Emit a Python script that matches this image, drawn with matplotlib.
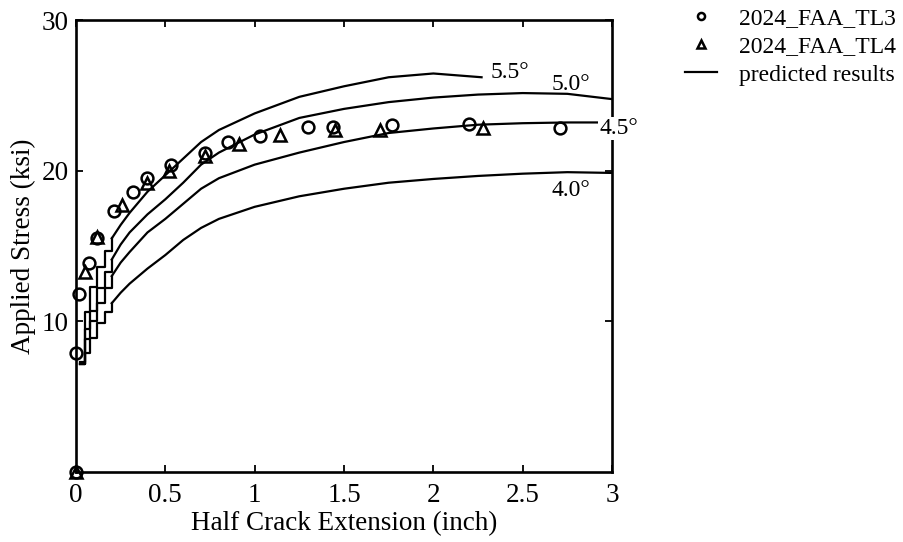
import matplotlib
matplotlib.use("Agg")
import matplotlib.pyplot as plt

plt.rcParams['font.family'] = ['Liberation Serif', 'DejaVu Serif']

# --- test data ---
tl3_x = [0.0, 0.0, 0.015, 0.07, 0.12, 0.21, 0.32, 0.40, 0.53, 0.72, 0.85, 1.03, 1.30, 1.44, 1.77, 2.20, 2.71]
tl3_y = [0.0, 7.9, 11.8, 13.85, 15.5, 17.3, 18.6, 19.5, 20.4, 21.2, 21.9, 22.3, 22.9, 22.9, 23.0, 23.1, 22.85]

tl4_x = [0.0, 0.05, 0.12, 0.26, 0.40, 0.52, 0.72, 0.91, 1.14, 1.45, 1.70, 2.28]
tl4_y = [0.0, 13.3, 15.6, 17.7, 19.2, 20.0, 21.0, 21.8, 22.4, 22.7, 22.7, 22.8]

# --- predicted curves (early part drawn as steps, later part smooth) ---
early_x = [0.02, 0.05, 0.08, 0.12, 0.16, 0.20]
late_x = [0.20, 0.25, 0.30, 0.40, 0.50, 0.60, 0.70, 0.80, 1.00, 1.25, 1.50, 1.75, 2.00, 2.25, 2.50, 2.75, 3.00]

c55_early = [7.3, 10.6, 12.3, 13.6, 14.7, 15.5]
c55_late_x = [0.20, 0.25, 0.30, 0.40, 0.50, 0.60, 0.70, 0.80, 1.00, 1.25, 1.50, 1.75, 2.00, 2.27]
c55_late = [15.5, 16.4, 17.2, 18.6, 19.7, 20.8, 21.9, 22.7, 23.8, 24.9, 25.6, 26.2, 26.45, 26.2]

c50_early = [7.2, 9.5, 10.7, 12.2, 13.3, 14.1]
c50_late = [14.1, 15.1, 15.9, 17.1, 18.1, 19.2, 20.4, 21.2, 22.4, 23.5, 24.1, 24.55, 24.85, 25.05, 25.15, 25.1, 24.75]

c45_early = [7.2, 8.8, 10.0, 11.2, 12.2, 13.0]
c45_late = [13.0, 13.9, 14.6, 15.9, 16.8, 17.8, 18.8, 19.5, 20.4, 21.2, 21.9, 22.5, 22.8, 23.05, 23.15, 23.2, 23.2]

c40_early = [7.2, 7.9, 8.9, 9.9, 10.6, 11.2]
c40_late = [11.2, 11.9, 12.5, 13.5, 14.4, 15.4, 16.2, 16.8, 17.6, 18.3, 18.8, 19.2, 19.45, 19.65, 19.8, 19.9, 19.85]

curve_labels = ['5.5°', '5.0°', '4.5°', '4.0°']
label_x = [2.32, 2.66, 2.93, 2.66]
label_y = [26.5, 25.75, 22.8, 18.7]

xticks = [0, 0.5, 1, 1.5, 2, 2.5, 3]
xtick_labels = ['0', '0.5', '1', '1.5', '2', '2.5', '3']
yticks = [10, 20, 30]

fig = plt.figure(figsize=(9.04, 5.42), dpi=100)
ax = fig.add_axes([76/904, 1-472/542, (612-76)/904, (472-20)/542])

lw = 1.6
curves = [
    (early_x, c55_early, c55_late_x, c55_late),
    (early_x, c50_early, late_x, c50_late),
    (early_x, c45_early, late_x, c45_late),
    (early_x, c40_early, late_x, c40_late),
]
line_handle = None
for ex, ey, lx, ly in curves:
    ax.plot(ex, ey, color='black', lw=lw, drawstyle='steps-post', zorder=2)
    h, = ax.plot(lx, ly, color='black', lw=lw, zorder=2)
    line_handle = h

h3, = ax.plot(tl3_x, tl3_y, linestyle='none', marker='o', markersize=8.5,
              markerfacecolor='none', markeredgecolor='black', markeredgewidth=1.8,
              clip_on=False, zorder=4)
h4, = ax.plot(tl4_x, tl4_y, linestyle='none', marker='^', markersize=8.5,
              markerfacecolor='none', markeredgecolor='black', markeredgewidth=1.8,
              clip_on=False, zorder=4)

for lab, lx_, ly_ in zip(curve_labels, label_x, label_y):
    kw = {}
    if lab == '4.5°':
        kw = dict(bbox=dict(facecolor='white', edgecolor='none', pad=1.0), clip_on=False, zorder=5)
    ax.text(lx_, ly_, lab, fontsize=17, ha='left', va='center', **kw)

ax.set_xlim(0, 3)
ax.set_ylim(0, 30)
ax.set_xticks(xticks)
ax.set_xticklabels(xtick_labels)
ax.set_yticks(yticks)
ax.tick_params(direction='in', length=5, width=1.3, top=True, right=True,
               labelsize=19.5, pad=5)
ax.tick_params(axis='x', pad=8)
for s in ax.spines.values():
    s.set_linewidth(1.9)

ax.set_xlabel('Half Crack Extension (inch)', fontsize=19.5, labelpad=2)
ax.set_ylabel('Applied Stress (ksi)', fontsize=19.5, labelpad=4)

fig.legend([h3, h4, line_handle], ['2024_FAA_TL3', '2024_FAA_TL4', 'predicted results'],
           loc='upper left', bbox_to_anchor=(673/904, 1+4/542), frameon=False,
           fontsize=17, markerscale=0.6, handlelength=1.35, handletextpad=0.95,
           labelspacing=0.28, borderpad=0.0)

fig.savefig('out.png', dpi=100)
